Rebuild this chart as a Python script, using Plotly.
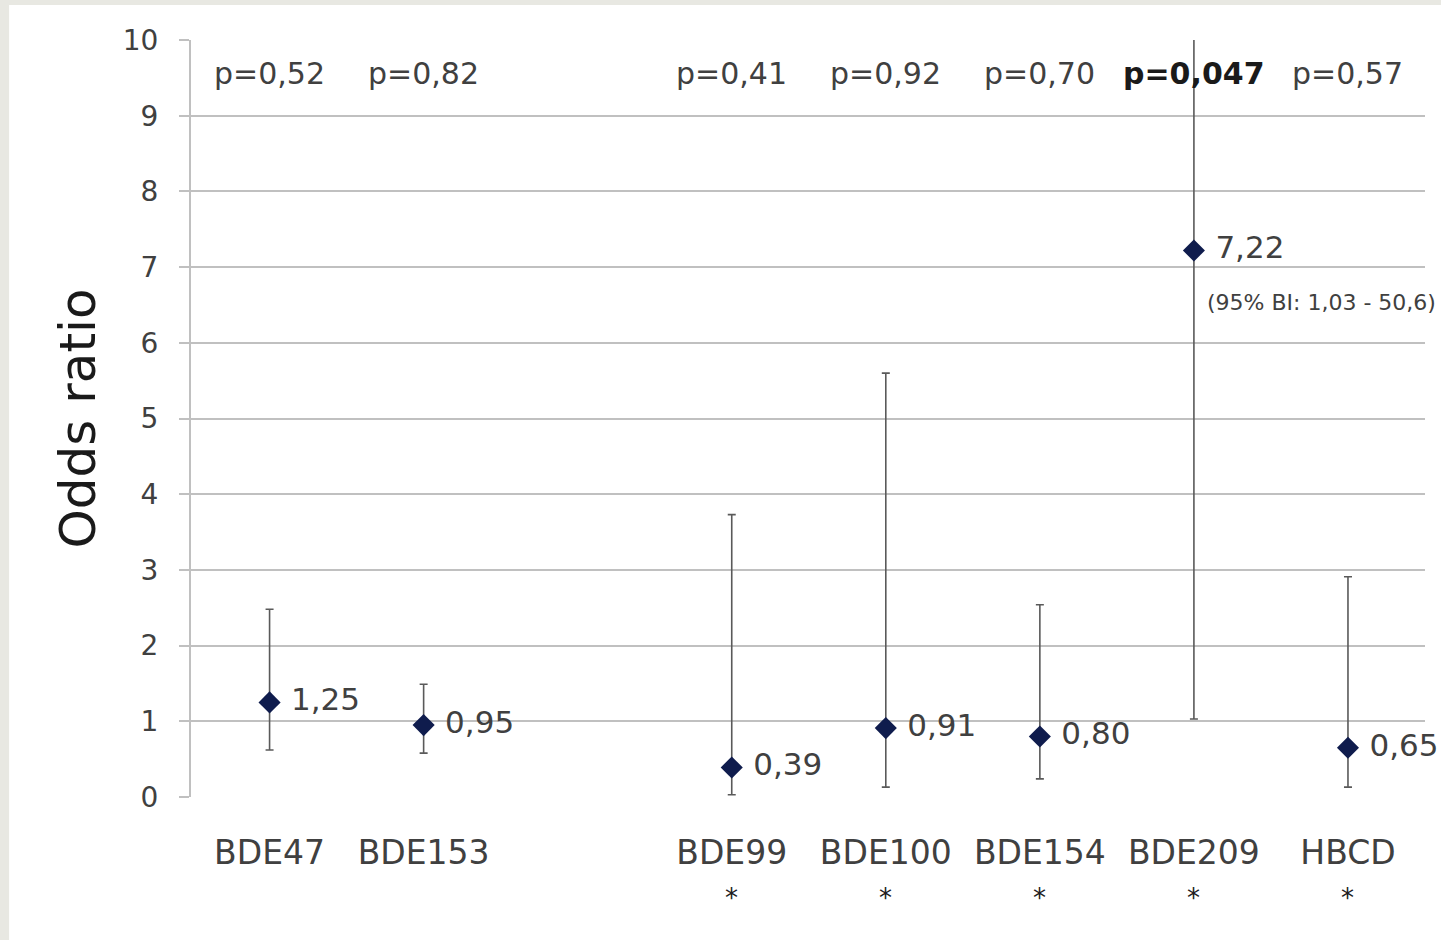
import plotly.graph_objects as go

# ---- data ----
categories = ["BDE47", "BDE153", "BDE99", "BDE100", "BDE154", "BDE209", "HBCD"]
positions = [0, 1, 3, 4, 5, 6, 7]          # slot 2 left empty (gap)
odds = [1.25, 0.95, 0.39, 0.91, 0.80, 7.22, 0.65]
ci_low = [0.62, 0.58, 0.03, 0.13, 0.24, 1.03, 0.13]
ci_high = [2.48, 1.49, 3.73, 5.60, 2.54, 50.6, 2.91]
odds_labels = ["1,25", "0,95", "0,39", "0,91", "0,80", "7,22", "0,65"]
p_labels = ["p=0,52", "p=0,82", "p=0,41", "p=0,92", "p=0,70", "<b>p=0,047</b>", "p=0,57"]
starred = [False, False, True, True, True, True, True]
ci_note = "(95% BI: 1,03 - 50,6)"
y_ticks = list(range(0, 11))

FONT = "DejaVu Sans"
TXT = "#404040"
GRID = "#c0c0c0"

err_plus = [h - o for h, o in zip(ci_high, odds)]
err_minus = [o - l for o, l in zip(odds, ci_low)]

fig = go.Figure()

# error bars (clipped to plot area)
fig.add_trace(go.Scatter(
    x=positions, y=odds, mode="markers",
    marker=dict(size=1, opacity=0),
    error_y=dict(type="data", symmetric=False, array=err_plus, arrayminus=err_minus,
                 color="#5a5a5a", thickness=1.6, width=4),
    cliponaxis=True, showlegend=False, hoverinfo="skip"))

# markers + value labels
fig.add_trace(go.Scatter(
    x=positions, y=odds, mode="markers+text",
    marker=dict(symbol="diamond", size=17, color="#0f1c4d"),
    text=[" " + t for t in odds_labels], textposition="middle right",
    textfont=dict(family=FONT, size=31, color=TXT),
    cliponaxis=False, showlegend=False))

annotations = []
for x, p in zip(positions, p_labels):
    annotations.append(dict(x=x, y=9.56, xref="x", yref="y", text=p, showarrow=False,
                            xanchor="center", yanchor="middle",
                            font=dict(family=FONT, size=30, color=TXT if "<b>" not in p else "#1a1a1a")))
for x, s in zip(positions, starred):
    if s:
        annotations.append(dict(x=x, y=-0.134, xref="x", yref="paper", text="*", showarrow=False,
                                xanchor="center", yanchor="middle",
                                font=dict(family=FONT, size=26, color="#202020")))
annotations.append(dict(x=6.07, y=6.53, xref="x", yref="y", text=ci_note, showarrow=False,
                        xanchor="left", yanchor="middle",
                        font=dict(family=FONT, size=22, color=TXT)))

fig.update_layout(
    width=1441, height=940,
    margin=dict(l=191, r=16, t=40, b=143),
    paper_bgcolor="white", plot_bgcolor="white",
    annotations=annotations,
    shapes=[
        dict(type="rect", xref="paper", yref="paper", x0=-0.2, x1=-0.1474, y0=-0.3, y1=1.1,
             fillcolor="#e8e8e2", line_width=0, layer="below"),
        dict(type="rect", xref="paper", yref="paper", x0=-0.2, x1=1.05, y0=1.0462, y1=1.1,
             fillcolor="#e8e8e2", line_width=0, layer="below"),
    ],
    xaxis=dict(range=[-0.51, 7.5], tickvals=positions, ticktext=categories,
               showgrid=False, zeroline=False, showline=False, ticks="",
               tickfont=dict(family=FONT, size=33, color=TXT), ticklabelstandoff=33),
    yaxis=dict(range=[0, 10], tickvals=y_ticks, ticktext=[str(v) for v in y_ticks],
               showgrid=True, gridcolor=GRID, gridwidth=2, zeroline=False,
               showline=True, linecolor=GRID, linewidth=2,
               ticks="outside", ticklen=10, tickcolor=GRID, tickwidth=2,
               tickfont=dict(family=FONT, size=28, color=TXT), ticklabelstandoff=15,
               title=dict(text="Odds ratio", font=dict(family=FONT, size=50, color="#1a1a1a"),
                          standoff=11)),
)

fig.write_html("out.html", config={"displayModeBar": False},
               post_script="document.body.style.margin='0';")
